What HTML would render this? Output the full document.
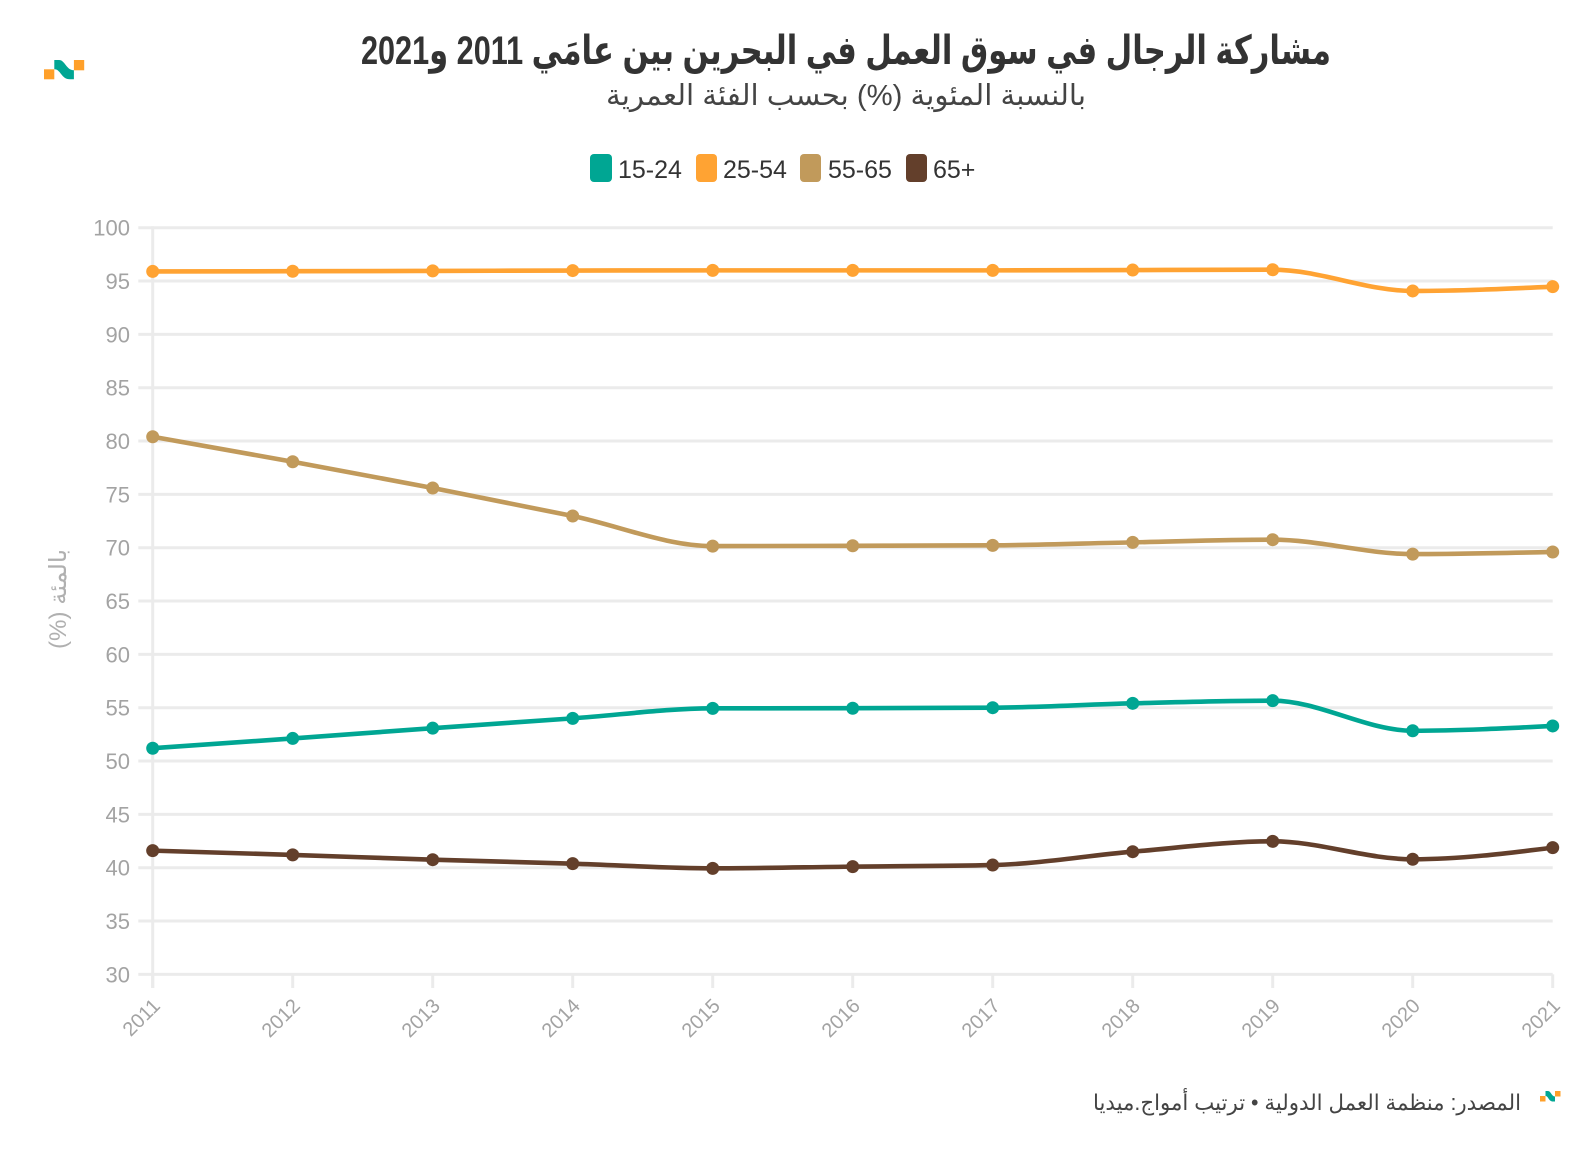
<!DOCTYPE html>
<html><head><meta charset="utf-8">
<style>
html,body{margin:0;padding:0;background:#fff;}
svg{display:block;}
text{font-family:"Liberation Sans","DejaVu Sans",sans-serif;}
</style></head>
<body>
<svg id="c" width="1592" height="1150" viewBox="0 0 1592 1150" xmlns="http://www.w3.org/2000/svg">
<rect width="1592" height="1150" fill="#fff"/>
<!-- logo top-left -->
<rect x="44" y="69.3" width="10.3" height="10" fill="#ffa02a"/>
<rect x="73.9" y="60" width="10.3" height="10.3" fill="#ffa02a"/>
<path d="M54.3,60 L59,60 C65,60 66,70 73.9,70.3 L73.9,79.3 L70,79.3 C61,79.3 61,69.3 54.3,69.3 Z" fill="#00a693"/>

<!-- title -->
<text x="846" y="64" text-anchor="middle" font-size="40" font-weight="bold" fill="#333" direction="rtl" style="direction:rtl" textLength="970" lengthAdjust="spacingAndGlyphs">مشاركة الرجال في سوق العمل في البحرين بين عامَي 2011 و2021</text>
<text x="846" y="105" text-anchor="middle" font-size="29" fill="#444" direction="rtl" style="direction:rtl" textLength="480" lengthAdjust="spacingAndGlyphs">بالنسبة المئوية (%) بحسب الفئة العمرية</text>

<!-- legend -->
<rect x="590" y="154" width="22" height="28" rx="4" fill="#00a693"/>
<text x="618" y="178" font-size="25" fill="#333">15-24</text>
<rect x="696" y="154" width="21" height="28" rx="4" fill="#ffa333"/>
<text x="723" y="178" font-size="25" fill="#333">25-54</text>
<rect x="800" y="154" width="21" height="28" rx="4" fill="#c19a5b"/>
<text x="828" y="178" font-size="25" fill="#333">55-65</text>
<rect x="906" y="154" width="21" height="28" rx="4" fill="#633f2b"/>
<text x="933" y="178" font-size="25" fill="#333">65+</text>

<g id="grid"></g>
<g id="ylabels" font-size="22" fill="#a3a3a3" text-anchor="end"></g>
<g id="xlabels" font-size="20" fill="#a3a3a3" text-anchor="end"></g>

<!-- y axis title -->
<text transform="translate(66,599) rotate(-90)" text-anchor="middle" font-size="24" fill="#b0b0b0" direction="rtl" style="direction:rtl" textLength="100" lengthAdjust="spacingAndGlyphs">بالمئة (%)</text>

<g id="series"></g>

<!-- footer -->
<text x="1521" y="1110" text-anchor="start" font-size="22" fill="#444" direction="rtl" style="direction:rtl" textLength="428" lengthAdjust="spacingAndGlyphs">المصدر: منظمة العمل الدولية • ترتيب أمواج.ميديا</text>
<rect x="1540" y="1096" width="5.5" height="5.5" fill="#ffa02a"/>
<rect x="1555" y="1091" width="5.5" height="5.5" fill="#ffa02a"/>
<path d="M1545.5,1091 L1548,1091 C1551,1091 1551.5,1096.5 1555,1096.5 L1555,1101.5 L1553,1101.5 C1548.5,1101.5 1548.5,1096 1545.5,1096 Z" fill="#00a693"/>
</svg>
<script>
(function(){
var NS="http://www.w3.org/2000/svg";
function el(tag,attrs,parent,txt){var e=document.createElementNS(NS,tag);for(var k in attrs)e.setAttribute(k,attrs[k]);if(txt!==undefined)e.textContent=txt;parent.appendChild(e);return e;}
var X0=152.7,DX=140,Y100=227.7,PU=10.6667;
function xp(i){return X0+DX*i;}
function yp(v){return Y100+(100-v)*PU;}
var grid=document.getElementById('grid');
for(var v=30;v<=100;v+=5){
  var y=yp(v);
  el('line',{x1:138.3,x2:1552.7,y1:y,y2:y,stroke:'#ebebeb','stroke-width':3},grid);
  el('text',{x:130,y:y+8},document.getElementById('ylabels'),String(v));
}
el('line',{x1:X0,x2:X0,y1:Y100-1.5,y2:988,stroke:'#ebebeb','stroke-width':3},grid);
for(var i=0;i<=10;i++){
  el('line',{x1:xp(i),x2:xp(i),y1:yp(30),y2:988,stroke:'#ebebeb','stroke-width':3},grid);
  var ex=xp(i)+8.5,ey=1007;
  el('text',{transform:'translate('+ex+','+ey+') rotate(-45)',x:0,y:0},document.getElementById('xlabels'),String(2011+i));
}
var data=[
 ['#00a693',[51.2,52.12,53.08,54.0,54.94,54.95,55.0,55.41,55.66,52.84,53.29]],
 ['#ffa333',[95.9,95.92,95.95,95.98,96.0,96.0,96.0,96.03,96.06,94.07,94.47]],
 ['#c19a5b',[80.4,78.06,75.6,72.97,70.15,70.18,70.22,70.5,70.75,69.4,69.6]],
 ['#633f2b',[41.6,41.2,40.75,40.38,39.94,40.1,40.25,41.5,42.47,40.79,41.88]]
];
var ser=document.getElementById('series');
function sign(a){return a<0?-1:1;}
data.forEach(function(s){
  var col=s[0],vals=s[1],n=vals.length;
  var px=[],py=[];
  for(var i=0;i<n;i++){px.push(xp(i));py.push(yp(vals[i]));}
  var m=new Array(n);
  for(var i=1;i<n-1;i++){
    var h0=px[i]-px[i-1],h1=px[i+1]-px[i];
    var s0=(py[i]-py[i-1])/h0,s1=(py[i+1]-py[i])/h1;
    var p=(s0*h1+s1*h0)/(h0+h1);
    m[i]=(sign(s0)+sign(s1))*Math.min(Math.abs(s0),Math.abs(s1),0.5*Math.abs(p))||0;
  }
  var h=px[1]-px[0];
  m[0]=(3*(py[1]-py[0])/h-m[1])/2;
  m[n-1]=(3*(py[n-1]-py[n-2])/h-m[n-2])/2;
  var d='M'+px[0]+','+py[0];
  for(var i=0;i<n-1;i++){
    var dx=(px[i+1]-px[i])/3;
    d+=' C'+(px[i]+dx)+','+(py[i]+dx*m[i])+' '+(px[i+1]-dx)+','+(py[i+1]-dx*m[i+1])+' '+px[i+1]+','+py[i+1];
  }
  el('path',{d:d,fill:'none',stroke:col,'stroke-width':4.6,'stroke-linejoin':'round','stroke-linecap':'round'},ser);
  for(var i=0;i<n;i++){el('circle',{cx:px[i],cy:py[i],r:6.5,fill:col},ser);}
});
})();
</script>
</body></html>
